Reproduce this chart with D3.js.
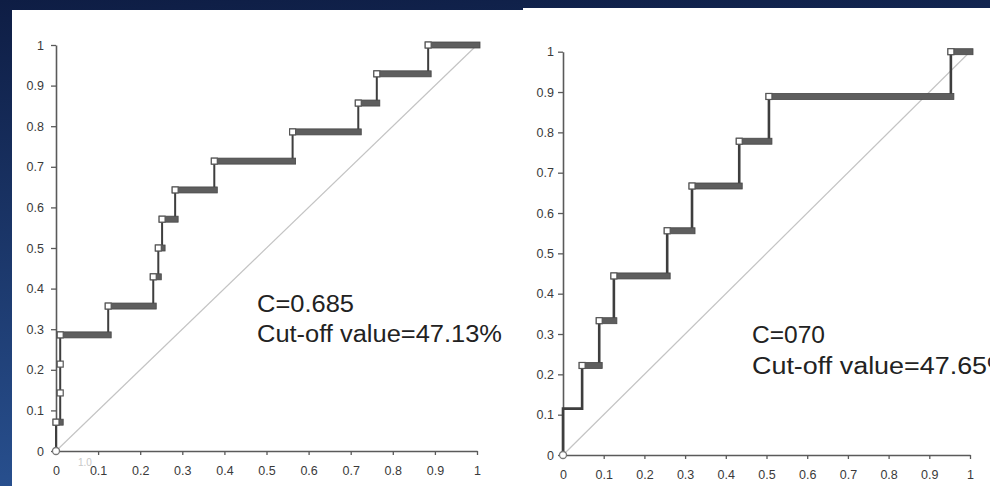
<!DOCTYPE html>
<html>
<head>
<meta charset="utf-8">
<style>
  body { margin: 0; background: #10214a; }
  svg { display: block; font-family: "Liberation Sans", Arial, sans-serif; }
</style>
</head>
<body>
<svg width="990" height="486"></svg>
<script src="https://d3js.org/d3.v7.min.js"></script>
<script>

// ROC curve, left panel (14 positive cases): corners of the step curve
var fprA = [0, 0, 0.01, 0.01, 0.01, 0.01, 0.124, 0.124, 0.231, 0.231, 0.243, 0.243, 0.252, 0.252,
            0.283, 0.283, 0.376, 0.376, 0.562, 0.562, 0.718, 0.718, 0.762, 0.762, 0.884, 0.884, 1];
var tprA = [0, 0.071, 0.071, 0.143, 0.214, 0.286, 0.286, 0.357, 0.357, 0.429, 0.429, 0.5, 0.5, 0.571,
            0.571, 0.643, 0.643, 0.714, 0.714, 0.786, 0.786, 0.857, 0.857, 0.929, 0.929, 1, 1];

// ROC curve, right panel (9 positive cases)
var fprB = [0, 0, 0.047, 0.047, 0.089, 0.089, 0.125, 0.125, 0.256, 0.256, 0.317, 0.317,
            0.433, 0.433, 0.506, 0.506, 0.953, 0.953, 1];
var tprB = [0, 0.115, 0.115, 0.222, 0.222, 0.333, 0.333, 0.444, 0.444, 0.556, 0.556, 0.667,
            0.667, 0.778, 0.778, 0.889, 0.889, 1, 1];
var thinB = [0.115];   // level drawn as a plain line, no marker bar

var ticks = [0, 0.1, 0.2, 0.3, 0.4, 0.5, 0.6, 0.7, 0.8, 0.9, 1];
var notesA = ["C=0.685", "Cut-off value=47.13%"];
var notesB = ["C=070", "Cut-off value=47.65%"];

var svg = d3.select("svg");

var defs = svg.append("defs");
var grad = defs.append("linearGradient").attr("id", "bg")
    .attr("x1", 0).attr("y1", 0).attr("x2", 0.15).attr("y2", 1);
grad.append("stop").attr("offset", 0).attr("stop-color", "#0e1d44");
grad.append("stop").attr("offset", 1).attr("stop-color", "#28508f");
svg.append("rect").attr("width", 990).attr("height", 486).attr("fill", "url(#bg)");

var fmt = function(d) { return d === 0 ? "0" : d === 1 ? "1" : d3.format(".1f")(d); };

function panel(cfg) {
  svg.append("rect")
      .attr("x", cfg.box[0]).attr("y", cfg.box[1])
      .attr("width", cfg.box[2]).attr("height", cfg.box[3])
      .attr("fill", "#fff");

  var g = svg.append("g");
  var x = d3.scaleLinear().domain([0, 1]).range([cfg.x0, cfg.x1]);
  var y = d3.scaleLinear().domain([0, 1]).range([cfg.y0, cfg.y1]);

  // diagonal reference line
  g.append("line")
      .attr("x1", x(0)).attr("y1", y(0)).attr("x2", x(1)).attr("y2", y(1))
      .attr("stroke", "#c4c4c4").attr("stroke-width", 1.2);

  var xAxis = g.append("g").attr("transform", "translate(0," + cfg.y0 + ")")
      .call(d3.axisBottom(x).tickValues(ticks).tickFormat(fmt).tickSize(4).tickPadding(11).tickSizeOuter(0));
  var yAxis = g.append("g").attr("transform", "translate(" + cfg.x0 + ",0)")
      .call(d3.axisLeft(y).tickValues(ticks).tickFormat(fmt).tickSize(5).tickPadding(cfg.yPad).tickSizeOuter(0));
  [xAxis, yAxis].forEach(function(a) {
    a.select(".domain").attr("stroke", "#5a5a5a").attr("stroke-width", 1.6);
    a.selectAll(".tick line").attr("stroke", "#5a5a5a").attr("stroke-width", 1.3);
    a.selectAll(".tick text").attr("fill", "#3a3a3a").attr("font-size", 12.5)
        .attr("font-family", "\"Liberation Sans\", Arial, sans-serif");
  });

  var pts = cfg.fpr.map(function(f, i) { return [f, cfg.tpr[i]]; });

  // step path (verticals show through)
  g.append("path")
      .attr("d", d3.line().x(function(d) { return x(d[0]); }).y(function(d) { return y(d[1]); })(pts))
      .attr("fill", "none").attr("stroke", "#3e3e3e").attr("stroke-width", cfg.lineW);

  // horizontal runs made of packed markers
  var runs = [];
  for (var i = 1; i < pts.length; i++) {
    if (pts[i][1] === pts[i - 1][1] && pts[i][0] !== pts[i - 1][0] && pts[i][1] > 0) {
      runs.push({ a: pts[i - 1][0], b: pts[i][0], t: pts[i][1] });
    }
  }
  var thin = cfg.thin || [];
  g.selectAll(".run").data(runs.filter(function(r) { return thin.indexOf(r.t) < 0; }))
    .enter().append("rect")
      .attr("x", function(d) { return x(d.a) - 3; })
      .attr("y", function(d) { return y(d.t) - 3; })
      .attr("width", function(d) { return x(d.b) - x(d.a) + 6; })
      .attr("height", 6)
      .attr("fill", "#5e5e5e").attr("stroke", "#474747").attr("stroke-width", 0.8);

  // white markers where each level starts
  var marks = pts.filter(function(d, i) {
    return i > 0 && d[1] !== pts[i - 1][1] && thin.indexOf(d[1]) < 0;
  });
  g.selectAll(".mk").data(marks).enter().append("rect")
      .attr("x", function(d) { return x(d[0]) - 3; })
      .attr("y", function(d) { return y(d[1]) - 3; })
      .attr("width", 6).attr("height", 6)
      .attr("fill", "#fff").attr("stroke", "#555").attr("stroke-width", 1.2);

  // origin marker
  g.append("circle").attr("cx", x(0)).attr("cy", y(0)).attr("r", 3.5)
      .attr("fill", "#fff").attr("stroke", "#777").attr("stroke-width", 1.3);

  cfg.notes.forEach(function(t, i) {
    g.append("text")
        .attr("x", cfg.note[0]).attr("y", cfg.note[1] + i * cfg.note[2])
        .attr("font-size", 23.5).attr("fill", "#222")
        .attr("textLength", cfg.noteW[i]).attr("lengthAdjust", "spacingAndGlyphs")
        .text(t);
  });
  return g;
}

var left = panel({
  box: [12, 10, 511, 476],
  x0: 56, x1: 477, y0: 451, y1: 45, yPad: 7,
  fpr: fprA, tpr: tprA, lineW: 2,
  notes: notesA, note: [257, 312, 30], noteW: [97, 245]
});
// faint ghost label near the origin
left.append("text").attr("x", 78).attr("y", 466).attr("font-size", 10)
    .attr("fill", "#c8c8c8").text("1.0");

panel({
  box: [523, 8, 467, 478],
  x0: 563, x1: 970, y0: 455, y1: 51.7, yPad: 4,
  fpr: fprB, tpr: tprB, lineW: 2.6, thin: thinB,
  notes: notesB, note: [752, 343, 30.6], noteW: [73, 259]
});

</script>
</body>
</html>
